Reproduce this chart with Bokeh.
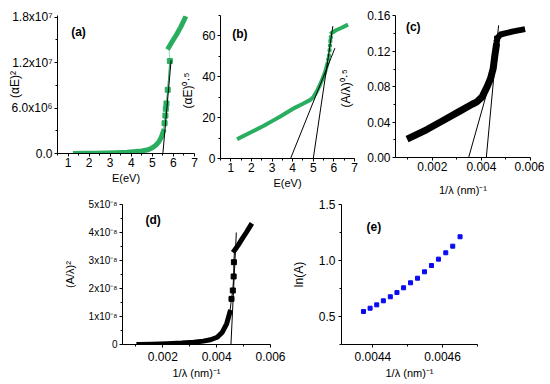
import math
from bokeh.plotting import figure
from bokeh.layouts import row, column
from bokeh.models import FixedTicker, Label, Range1d
from bokeh.embed import file_html
from bokeh.resources import INLINE

FONT = "Liberation Sans"
GREEN = "#29AE60"
BLUE = "#0A0AF2"
BLACK = "#000000"

# ---------------- data ----------------
# (a) (alpha E)^2 versus E(eV)
a_band_E = [1.35, 1.8, 2.3, 2.8, 3.3, 3.8, 4.2, 4.5, 4.8, 5.0, 5.15, 5.3, 5.42, 5.52]
a_band_y = [0.001e7, 0.002e7, 0.004e7, 0.007e7, 0.011e7, 0.017e7, 0.025e7, 0.034e7,
            0.05e7, 0.075e7, 0.105e7, 0.15e7, 0.21e7, 0.29e7]
a_steep_E = [5.58, 5.62, 5.64, 5.67, 5.73, 5.83]
a_steep_y = [0.40e7, 0.50e7, 0.59e7, 0.66e7, 0.84e7, 1.22e7]
a_up_E = [5.78, 5.95, 6.15, 6.35, 6.54]
a_up_y = [1.40e7, 1.48e7, 1.57e7, 1.67e7, 1.78e7]
a_fit_E = [5.50, 5.89]
a_fit_y = [0.0, 1.23e7]

# (b) (alpha E)^0.5 versus E(eV)
b_band_E = [1.39, 2.0, 2.6, 3.0, 3.4, 3.8, 4.1, 4.5, 4.86, 5.0, 5.15, 5.3, 5.45, 5.58, 5.68]
b_band_y = [9.9, 13.0, 16.0, 18.3, 20.6, 23.0, 24.8, 26.8, 28.7, 30.0, 32.5, 35.5, 39.0, 42.5, 46.3]
b_steep_E = [5.73, 5.76, 5.79, 5.81, 5.83, 5.85]
b_steep_y = [48.5, 50.4, 53.0, 55.3, 57.5, 59.4]
b_up_E = [5.90, 6.10, 6.35, 6.60]
b_up_y = [61.5, 62.8, 63.9, 65.1]
b_fit1_E = [3.9, 6.05]
b_fit1_y = [0.0, 54.0]
b_fit2_E = [5.0, 5.95]
b_fit2_y = [0.0, 64.8]

# (c) (A/lambda)^0.5 versus 1/lambda
c_band_x = [0.00110, 0.00178, 0.00246, 0.00314, 0.00362, 0.00382, 0.00403, 0.00423,
            0.00437, 0.00448, 0.00454, 0.00460]
c_band_y = [0.0225, 0.0316, 0.0421, 0.0527, 0.0602, 0.0629, 0.0685, 0.0798,
            0.0892, 0.1005, 0.1137, 0.1250]
c_steep_x = [0.00462, 0.00464]
c_steep_y = [0.1300, 0.1343]
c_up_x = [0.00468, 0.00478, 0.00500, 0.00530, 0.00566]
c_up_y = [0.136, 0.139, 0.1405, 0.1425, 0.1445]
c_fit1_x = [0.00348, 0.00448]
c_fit1_y = [0.0, 0.0986]
c_fit2_x = [0.00420, 0.00470]
c_fit2_y = [0.0, 0.1494]

# (d) (A/lambda)^2 versus 1/lambda
d_band_x = [0.00111, 0.00160, 0.00216, 0.00270, 0.00315, 0.00350, 0.00377, 0.00402,
            0.00421, 0.00437, 0.00449]
d_band_y = [0.0, 0.01e-8, 0.03e-8, 0.05e-8, 0.08e-8, 0.12e-8, 0.17e-8, 0.26e-8,
            0.44e-8, 0.74e-8, 1.15e-8]
d_steep_x = [0.00455, 0.00460, 0.00463, 0.00464]
d_steep_y = [1.63e-8, 1.93e-8, 2.43e-8, 2.94e-8]
d_up_x = [0.00466, 0.00480, 0.00495, 0.00510, 0.00526]
d_up_y = [3.36e-8, 3.55e-8, 3.78e-8, 4.00e-8, 4.25e-8]
d_fit_x = [0.00453, 0.00473]
d_fit_y = [0.0, 4.0e-8]

# (e) ln(A) versus 1/lambda
e_x = [0.004373, 0.004392, 0.004411, 0.004430, 0.004450, 0.004469, 0.004488, 0.004508,
       0.004528, 0.004548, 0.004568, 0.004588, 0.004609, 0.004629, 0.004650]
e_y = [0.545, 0.574, 0.604, 0.640, 0.676, 0.714, 0.756, 0.801,
       0.842, 0.899, 0.955, 1.012, 1.069, 1.128, 1.212]

# ---------------- ticks ----------------
E_ticks = [1, 2, 3, 4, 5, 6, 7]
E_minor = [0.5, 1.5, 2.5, 3.5, 4.5, 5.5, 6.5]
E_labels = ["1", "2", "3", "4", "5", "6", "7"]
a_yticks = [0, 6e6, 1.2e7, 1.8e7]
a_yminor = [3e6, 9e6, 1.5e7]
a_ylabels = ["0.0", "6.0x10\u2076", "1.2x10\u2077", "1.8x10\u2077"]
b_yticks = [0, 20, 40, 60]
b_yminor = [10, 30, 50, 70]
b_ylabels = ["0", "20", "40", "60"]
inv_ticks = [0.002, 0.004, 0.006]
inv_minor = [0.001, 0.003, 0.005]
inv_labels = ["0.002", "0.004", "0.006"]
c_yticks = [0.0, 0.04, 0.08, 0.12, 0.16]
c_yminor = [0.02, 0.06, 0.10, 0.14]
c_ylabels = ["0.00", "0.04", "0.08", "0.12", "0.16"]
d_yticks = [0, 1e-8, 2e-8, 3e-8, 4e-8, 5e-8]
d_yminor = [0.5e-8, 1.5e-8, 2.5e-8, 3.5e-8, 4.5e-8]
d_ylabels = ["0", "1x10\u207b\u2078", "2x10\u207b\u2078", "3x10\u207b\u2078",
             "4x10\u207b\u2078", "5x10\u207b\u2078"]
e_xticks = [0.0044, 0.0046]
e_xminor = [0.0045, 0.0047]
e_xlabels = ["0.0044", "0.0046"]
e_yticks = [0.5, 1.0, 1.5]
e_yminor = [0.25, 0.75, 1.25]
e_ylabels = ["0.5", "1.0", "1.5"]


def make_fig(xr, yr, fw, fh, bl, br, bt, bb):
    p = figure(frame_width=fw, frame_height=fh,
               x_range=Range1d(*xr), y_range=Range1d(*yr),
               min_border_left=bl, min_border_right=br,
               min_border_top=bt, min_border_bottom=bb,
               toolbar_location=None, tools="", output_backend="svg")
    p.outline_line_color = None
    p.xgrid.visible = False
    p.ygrid.visible = False
    p.background_fill_color = "white"
    p.border_fill_color = "white"
    return p


def style_axis(ax, ticks, minor, labels, tick_size, label_text, label_size,
               label_standoff, major_standoff):
    ax.ticker = FixedTicker(ticks=ticks, minor_ticks=minor)
    ax.major_label_overrides = {t: l for t, l in zip(ticks, labels)}
    ax.axis_line_color = BLACK
    ax.axis_line_width = 1
    ax.major_tick_line_color = BLACK
    ax.minor_tick_line_color = BLACK
    ax.major_tick_in = 0
    ax.major_tick_out = 3
    ax.minor_tick_in = 0
    ax.minor_tick_out = 2
    ax.major_label_text_font = FONT
    ax.major_label_text_font_size = tick_size
    ax.major_label_text_color = BLACK
    ax.major_label_standoff = major_standoff
    ax.axis_label = label_text
    ax.axis_label_text_font = FONT
    ax.axis_label_text_font_size = label_size
    ax.axis_label_text_font_style = "normal"
    ax.axis_label_text_color = BLACK
    ax.axis_label_standoff = label_standoff


def band(p, x, y, width, color):
    p.line(x, y, line_width=width, color=color, line_cap="square", line_join="round")


def tag(p, x, y, text):
    p.add_layout(Label(x=x, y=y, text=text, text_font=FONT, text_font_size="12px",
                       text_font_style="bold", text_align="left",
                       text_baseline="middle", text_color=BLACK))


def vlabel(p, x, y, text, size="12px"):
    p.add_layout(Label(x=x, y=y, text=text, angle=math.pi / 2, text_font=FONT,
                       text_font_size=size, text_align="center",
                       text_baseline="middle", text_color=BLACK))


INV_LABEL = "1/\u03bb (nm)\u207b\u00b9"

# ---------------- (a) ----------------
fa = make_fig((0.5, 7), (0, 1.82e7), 137, 138, 57, 4, 15, 43)
style_axis(fa.xaxis[0], E_ticks, E_minor, E_labels, "12px", "E(eV)", "11px", 2, 1)
style_axis(fa.yaxis[0], a_yticks, a_yminor, a_ylabels, "12px", "(\u03b1E)\u00b2", "12px", -13, 2)
band(fa, a_band_E, a_band_y, 5, GREEN)
fa.line(a_steep_E + a_up_E[:1], a_steep_y + a_up_y[:1], line_width=1, color=GREEN, alpha=0.45)
fa.line(a_band_E[-1:] + a_steep_E, a_band_y[-1:] + a_steep_y, line_width=1, color=GREEN)
fa.scatter(a_steep_E, a_steep_y, marker="square", size=5, color=GREEN)
band(fa, a_up_E, a_up_y, 5, GREEN)
fa.line(a_fit_E, a_fit_y, line_width=1, color=BLACK)
tag(fa, 1.15, 1.596e7, "(a)")
# y-axis title of panel (b) sits over the right edge of panel (a)
vlabel(fa, 6.69, 0.831e7, "(\u03b1E)\u2070\u00b7\u2075")

# ---------------- (b) ----------------
fb = make_fig((0.5, 7), (0, 70), 134, 143, 22, 9, 10, 43)
style_axis(fb.xaxis[0], E_ticks, E_minor, E_labels, "12px", "E(eV)", "11px", 2, 1)
style_axis(fb.yaxis[0], b_yticks, b_yminor, b_ylabels, "12px", None, "12px", 0, 2)
band(fb, b_band_E, b_band_y, 4, GREEN)
fb.line(b_band_E[-1:] + b_steep_E, b_band_y[-1:] + b_steep_y, line_width=1, color=GREEN, alpha=0.6)
fb.scatter(b_steep_E, b_steep_y, marker="square", size=3, color=GREEN)
band(fb, b_up_E, b_up_y, 4, GREEN)
fb.line(b_fit1_E, b_fit1_y, line_width=1, color=BLACK)
fb.line(b_fit2_E, b_fit2_y, line_width=1, color=BLACK)
tag(fb, 1.07, 61.0, "(b)")
vlabel(fb, 6.59, 34.3, "(A/\u03bb)\u2070\u00b7\u2075")

# ---------------- (c) ----------------
fc = make_fig((0.0005, 0.006), (0, 0.1605), 135, 142, 32, 14, 12, 42)
style_axis(fc.xaxis[0], inv_ticks, inv_minor, inv_labels, "12px", INV_LABEL, "11px", 10, 1)
style_axis(fc.yaxis[0], c_yticks, c_yminor, c_ylabels, "12px", None, "12px", 0, 2)
band(fc, c_band_x, c_band_y, 7, BLACK)
fc.line(c_band_x[-1:] + c_steep_x + c_up_x[:1], c_band_y[-1:] + c_steep_y + c_up_y[:1],
        line_width=1, color=BLACK)
fc.scatter(c_steep_x, c_steep_y, marker="square", size=5, color=BLACK)
band(fc, c_up_x, c_up_y, 6, BLACK)
fc.line(c_fit1_x, c_fit1_y, line_width=1, color=BLACK)
fc.line(c_fit2_x, c_fit2_y, line_width=1, color=BLACK)
tag(fc, 0.000924, 0.1476, "(c)")

# ---------------- (d) ----------------
fd = make_fig((0.0005, 0.006), (0, 5e-8), 148, 140, 122, 18, 8, 38)
style_axis(fd.xaxis[0], inv_ticks, inv_minor, inv_labels, "12px", INV_LABEL, "11px", 3, 4)
style_axis(fd.yaxis[0], d_yticks, d_yminor, d_ylabels, "10px", "(A/\u03bb)\u00b2", "11px", 10, 2)
band(fd, d_band_x, d_band_y, 5, BLACK)
fd.line(d_band_x[-1:] + d_steep_x + d_up_x[:1], d_band_y[-1:] + d_steep_y + d_up_y[:1],
        line_width=1, color=BLACK)
fd.scatter(d_steep_x, d_steep_y, marker="square", size=5, color=BLACK)
band(fd, d_up_x, d_up_y, 5, BLACK)
fd.line(d_fit_x, d_fit_y, line_width=1, color=BLACK)
tag(fd, 0.001355, 4.46e-8, "(d)")

# ---------------- (e) ----------------
fe = make_fig((0.00431, 0.0047), (0.25, 1.5), 136, 140, 51, 12, 7, 39)
style_axis(fe.xaxis[0], e_xticks, e_xminor, e_xlabels, "12px", INV_LABEL, "11px", 3, 4)
style_axis(fe.yaxis[0], e_yticks, e_yminor, e_ylabels, "12px", "ln(A)", "12px", 10, 3)
fe.scatter(e_x, e_y, marker="square", size=4, color=BLUE)
tag(fe, 0.004382, 1.30, "(e)")

layout = column(row(fa, fb, fc), row(fd, fe))
open("out.html", "w").write(file_html(layout, INLINE))
